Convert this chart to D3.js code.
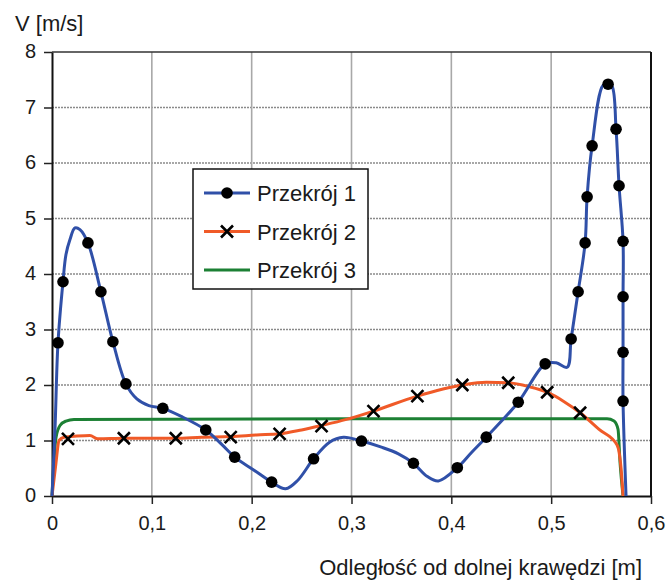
<!DOCTYPE html>
<html>
<head>
<meta charset="utf-8">
<script src="https://cdn.jsdelivr.net/npm/d3@7"></script>
<style>
  html, body { margin: 0; padding: 0; background: #fff; }
  svg { display: block; }
</style>
</head>
<body>
<div id="chart"></div>
<script>
// Velocity profiles, three cross-sections
const X_TICKS = [0, 0.1, 0.2, 0.3, 0.4, 0.5, 0.6]
const Y_TICKS = [0, 1, 2, 3, 4, 5, 6, 7, 8]
const SERIES_NAMES = ['Przekrój 1', 'Przekrój 2', 'Przekrój 3']
const X_TITLE = 'Odległość od dolnej krawędzi [m]'
const Y_TITLE = 'V [m/s]'

// Przekrój 1 – line trace and measured points
const line1 = [
  [0.000, 0.00], [0.003, 1.20], [0.006, 2.76], [0.011, 3.86], [0.014, 4.35],
  [0.018, 4.62], [0.023, 4.83], [0.028, 4.80], [0.036, 4.56], [0.049, 3.68],
  [0.061, 2.78], [0.074, 2.02], [0.085, 1.75], [0.097, 1.63], [0.111, 1.58],
  [0.130, 1.43], [0.154, 1.19], [0.170, 0.93], [0.183, 0.70], [0.202, 0.47],
  [0.220, 0.25], [0.234, 0.13], [0.246, 0.28], [0.262, 0.67], [0.278, 0.97],
  [0.292, 1.06], [0.310, 0.99], [0.330, 0.88], [0.347, 0.76], [0.362, 0.59],
  [0.376, 0.35], [0.387, 0.27], [0.406, 0.51], [0.420, 0.78], [0.435, 1.06],
  [0.467, 1.69], [0.494, 2.38], [0.505, 2.40], [0.516, 2.32], [0.520, 2.83],
  [0.527, 3.68], [0.534, 4.56], [0.536, 5.39], [0.541, 6.31], [0.552, 7.40],
  [0.557, 7.42], [0.561, 7.38], [0.565, 6.61], [0.568, 5.59], [0.572, 4.59],
  [0.572, 3.59], [0.572, 2.59], [0.572, 1.71], [0.575, 0.00]
]
const points1 = [
  [0.006, 2.76], [0.011, 3.86], [0.036, 4.56], [0.049, 3.68], [0.061, 2.78],
  [0.074, 2.02], [0.111, 1.58], [0.154, 1.19], [0.183, 0.70], [0.220, 0.25],
  [0.262, 0.67], [0.310, 0.99], [0.362, 0.59], [0.406, 0.51], [0.435, 1.06],
  [0.467, 1.69], [0.494, 2.38], [0.520, 2.83], [0.527, 3.68], [0.534, 4.56],
  [0.536, 5.39], [0.541, 6.31], [0.557, 7.42], [0.565, 6.61], [0.568, 5.59],
  [0.572, 4.59], [0.572, 3.59], [0.572, 2.59], [0.572, 1.71]
]

// Przekrój 2
const line2 = [
  [0.000, 0.00], [0.004, 0.60], [0.007, 1.00], [0.012, 1.06], [0.025, 1.08],
  [0.038, 1.09], [0.046, 1.03], [0.072, 1.04], [0.124, 1.04], [0.150, 1.06],
  [0.179, 1.07], [0.205, 1.10], [0.228, 1.12], [0.250, 1.19], [0.270, 1.27],
  [0.295, 1.38], [0.322, 1.53], [0.366, 1.80], [0.411, 2.00], [0.435, 2.05],
  [0.457, 2.04], [0.478, 1.97], [0.496, 1.87], [0.513, 1.70], [0.529, 1.50],
  [0.548, 1.20], [0.566, 0.92], [0.570, 0.50], [0.572, 0.00]
]
const points2 = [
  [0.016, 1.03], [0.072, 1.04], [0.124, 1.04], [0.179, 1.06], [0.228, 1.12],
  [0.270, 1.26], [0.322, 1.53], [0.366, 1.80], [0.411, 2.00], [0.457, 2.04],
  [0.496, 1.87], [0.529, 1.50]
]

// Przekrój 3 (no markers)
const line3 = [
  [0.000, 0.00], [0.004, 1.05], [0.008, 1.27], [0.014, 1.35], [0.022, 1.38],
  [0.300, 1.39], [0.556, 1.39], [0.563, 1.35], [0.567, 1.20], [0.569, 0.60],
  [0.572, 0.00]
]

const COLORS = ['#3050a8', '#f05a28', '#1c8034']
const FONT = '"Liberation Sans", Arial, sans-serif'

const width = 672
const height = 583
const margin = { top: 52, right: 21, bottom: 87, left: 52 }

const x = d3.scaleLinear().domain([0, 0.6]).range([margin.left, width - margin.right])
const y = d3.scaleLinear().domain([0, 8]).range([height - margin.bottom, margin.top])

const svg = d3.select('#chart').append('svg')
  .attr('width', width).attr('height', height)

// grid
svg.append('g')
  .selectAll('line')
  .data(Y_TICKS.filter(d => d > 0 && d < 8))
  .join('line')
  .attr('x1', x(0)).attr('x2', x(0.6))
  .attr('y1', d => y(d)).attr('y2', d => y(d))
  .attr('stroke', '#8a8a8a').attr('stroke-width', 1.5)
  .attr('stroke-dasharray', '2,1')

svg.append('g')
  .selectAll('line')
  .data(X_TICKS.filter(d => d > 0 && d < 0.6))
  .join('line')
  .attr('x1', d => x(d)).attr('x2', d => x(d))
  .attr('y1', y(0)).attr('y2', y(8))
  .attr('stroke', '#a8a8a8').attr('stroke-width', 1.6)

// frame top / right
svg.append('line')
  .attr('x1', x(0)).attr('x2', x(0.6)).attr('y1', y(8)).attr('y2', y(8))
  .attr('stroke', '#333').attr('stroke-width', 1.5)
svg.append('line')
  .attr('x1', x(0.6)).attr('x2', x(0.6)).attr('y1', y(8)).attr('y2', y(0))
  .attr('stroke', '#111').attr('stroke-width', 2)

function styleAxis(g) {
  g.select('.domain').attr('stroke', '#111').attr('stroke-width', 2)
  g.selectAll('.tick line').attr('stroke', '#222').attr('stroke-width', 1.5)
  g.selectAll('.tick text')
    .attr('fill', '#1a1a1a').attr('font-size', '20px')
    .attr('font-family', FONT)
}

svg.append('g')
  .attr('transform', `translate(0,${y(0)})`)
  .call(d3.axisBottom(x).tickValues(X_TICKS).tickSize(8).tickSizeOuter(0).tickPadding(12)
    .tickFormat(d => d === 0 ? '0' : String(d).replace('.', ',')))
  .call(styleAxis)

svg.append('g')
  .attr('transform', `translate(${x(0)},0)`)
  .call(d3.axisLeft(y).tickValues(Y_TICKS).tickSize(8).tickSizeOuter(0).tickPadding(8)
    .tickFormat(d => d))
  .call(styleAxis)
  .call(g => g.selectAll('.tick text').attr('dy', '0.28em'))

// axis titles
svg.append('text')
  .attr('x', 15).attr('y', 31)
  .attr('font-size', '22px').attr('font-family', FONT).attr('fill', '#1a1a1a')
  .text(Y_TITLE)

svg.append('text')
  .attr('x', 642).attr('y', 575).attr('text-anchor', 'end')
  .attr('font-size', '22px').attr('font-family', FONT).attr('fill', '#1a1a1a')
  .text(X_TITLE)

// lines
const lineSmooth = d3.line().x(d => x(d[0])).y(d => y(d[1])).curve(d3.curveCatmullRom.alpha(0.5))
const lineMono = d3.line().x(d => x(d[0])).y(d => y(d[1])).curve(d3.curveMonotoneX)

svg.append('path').datum(line3).attr('d', lineMono)
  .attr('fill', 'none').attr('stroke', COLORS[2]).attr('stroke-width', 3)
svg.append('path').datum(line2).attr('d', lineMono)
  .attr('fill', 'none').attr('stroke', COLORS[1]).attr('stroke-width', 3)
svg.append('path').datum(line1).attr('d', lineSmooth)
  .attr('fill', 'none').attr('stroke', COLORS[0]).attr('stroke-width', 3)
  .attr('stroke-linejoin', 'round')

const crossPath = s => `M${-s},${-s}L${s},${s}M${-s},${s}L${s},${-s}`

svg.append('g').selectAll('path')
  .data(points2)
  .join('path')
  .attr('transform', d => `translate(${x(d[0])},${y(d[1])})`)
  .attr('d', crossPath(6))
  .attr('stroke', '#000').attr('stroke-width', 2.6)

svg.append('g').selectAll('circle')
  .data(points1)
  .join('circle')
  .attr('cx', d => x(d[0])).attr('cy', d => y(d[1]))
  .attr('r', 5.8).attr('fill', '#000')

// legend
const legend = svg.append('g').attr('transform', 'translate(193,169)')
legend.append('rect')
  .attr('width', 175).attr('height', 120)
  .attr('fill', '#fff').attr('stroke', '#111').attr('stroke-width', 1.5)

SERIES_NAMES.forEach((name, i) => {
  const ly = 24 + i * 38.5
  legend.append('line')
    .attr('x1', 11).attr('x2', 57).attr('y1', ly).attr('y2', ly)
    .attr('stroke', COLORS[i]).attr('stroke-width', 3)
  if (i === 0) {
    legend.append('circle').attr('cx', 34).attr('cy', ly).attr('r', 5.8).attr('fill', '#000')
  } else if (i === 1) {
    legend.append('path').attr('transform', `translate(34,${ly})`)
      .attr('d', crossPath(6)).attr('stroke', '#000').attr('stroke-width', 2.6)
  }
  legend.append('text')
    .attr('x', 64).attr('y', ly + 8)
    .attr('font-size', '22px').attr('font-family', FONT).attr('fill', '#1a1a1a')
    .text(name)
})
</script>
</body>
</html>
